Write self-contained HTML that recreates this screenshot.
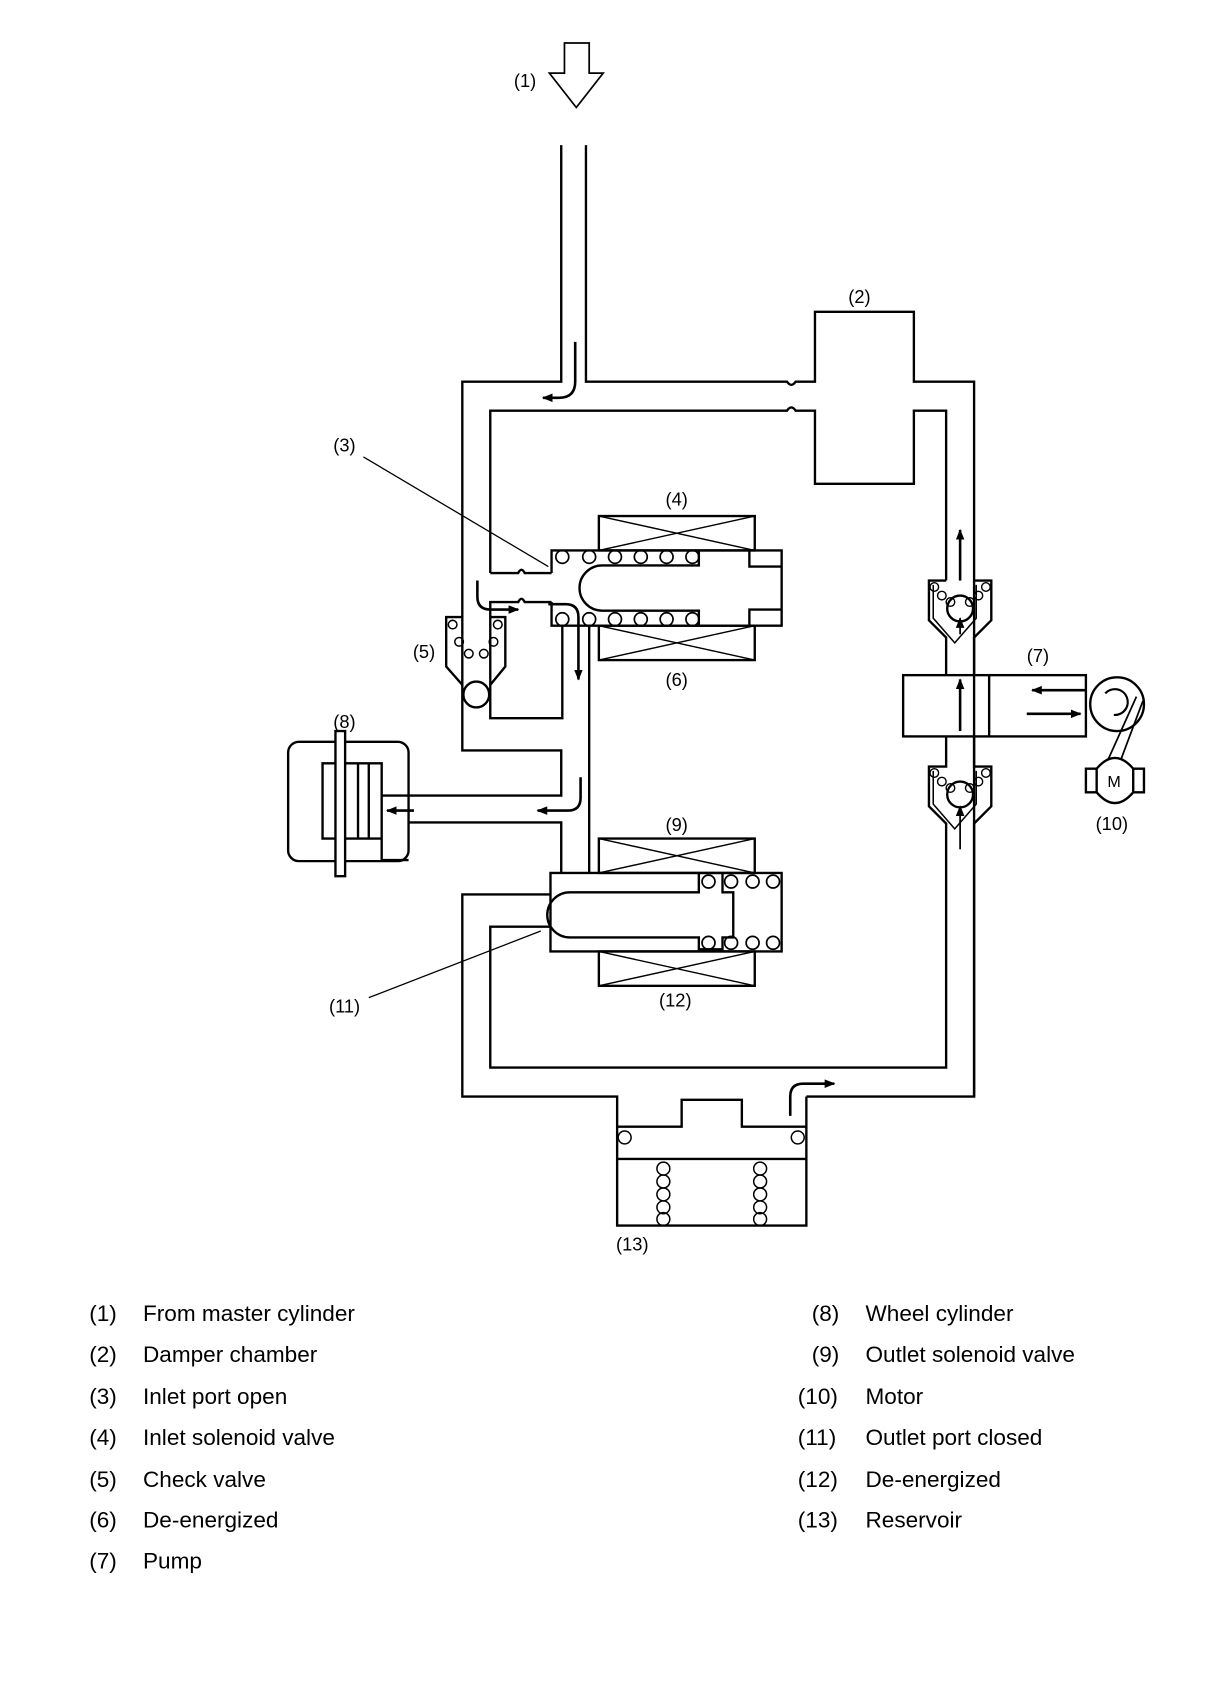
<!DOCTYPE html>
<html><head><meta charset="utf-8"><style>
html,body{margin:0;padding:0;background:#fff}
svg{display:block}
text{font-family:"Liberation Sans",Arial,sans-serif;fill:#000}
</style></head><body>
<svg width="1216" height="1690" viewBox="0 0 1131 1572" preserveAspectRatio="none" xmlns="http://www.w3.org/2000/svg">
<defs><marker id="ah" markerWidth="10" markerHeight="8" refX="9" refY="4" orient="auto" markerUnits="userSpaceOnUse"><path d="M0,0 L10,4 L0,8 Z" fill="#000"/></marker></defs>
<g fill="none" stroke="#000" stroke-width="2.2">
<path d="M525,40 H548 V68 H561 L536,100 L511,68 H525 Z" stroke-width="1.6"/>
<path d="M522,135 V355 H430 V698 H522 V740 H380"/>
<path d="M545,135 V355 H732 q4,6 8,0 H758 V290 H850 V355 H906 V1020 H750"/>
<path d="M456,533 V382 H732 q4,-6 8,0 H758 V450 H850 V382 H880 V540"/>
<path d="M456,533 H482 q3,-6 6,0 H513"/>
<path d="M513,560 H488 q-3,-6 -6,0 H456 V668 H523 V582"/>
<path d="M548,582 V812"/>
<path d="M380,765 H522 V812"/>
<rect x="557" y="480" width="145" height="32"/><path d="M557,480 L702,512 M702,480 L557,512" stroke-width="1.3"/>
<rect x="557" y="582" width="145" height="32"/><path d="M557,582 L702,614 M702,582 L557,614" stroke-width="1.3"/>
<path d="M513,533 V512 H727 V582 H513 V560"/>
<path d="M650,512 V526 H560 a20,20 0 0 0 0,42 H650 V582 M697,512 V527 H727 M697,582 V567 H727"/>
<g stroke-width="1.6">
<circle cx="523" cy="518" r="6"/><circle cx="548" cy="518" r="6"/><circle cx="572" cy="518" r="6"/><circle cx="596" cy="518" r="6"/><circle cx="620" cy="518" r="6"/><circle cx="644" cy="518" r="6"/>
<circle cx="523" cy="576" r="6"/><circle cx="548" cy="576" r="6"/><circle cx="572" cy="576" r="6"/><circle cx="596" cy="576" r="6"/><circle cx="620" cy="576" r="6"/><circle cx="644" cy="576" r="6"/>
</g>
<path d="M430,574 H415 V620 L430,637 M456,574 H470 V620 L456,637" />
<circle cx="443" cy="646" r="12" fill="#fff"/>
<g stroke-width="1.4"><circle cx="421" cy="581" r="4"/><circle cx="463" cy="581" r="4"/><circle cx="427" cy="597" r="4"/><circle cx="459" cy="597" r="4"/><circle cx="436" cy="608" r="4"/><circle cx="450" cy="608" r="4"/></g>
<rect x="268" y="690" width="112" height="111" rx="10"/>
<path d="M380,740 H355 V800 H380 M355,740 V710 H300 V780 H355 V765"/>
<path d="M313,710 V780 M333,710 V780 M343,710 V780"/>
<rect x="312" y="680" width="9" height="135" fill="#fff"/>
<rect x="557" y="780" width="145" height="32"/><path d="M557,780 L702,812 M702,780 L557,812" stroke-width="1.3"/>
<rect x="557" y="885" width="145" height="32"/><path d="M557,885 L702,917 M702,885 L557,917" stroke-width="1.3"/>
<rect x="512" y="812" width="215" height="73"/>
<path d="M650,812 V830 H530 a20,20 0 0 0 0,42 H650 V883 H672 V872 H682 V830 H672 V812"/>
<g stroke-width="1.6">
<circle cx="659" cy="820" r="6"/><circle cx="680" cy="820" r="6"/><circle cx="700" cy="820" r="6"/><circle cx="719" cy="820" r="6"/>
<circle cx="659" cy="877" r="6"/><circle cx="680" cy="877" r="6"/><circle cx="700" cy="877" r="6"/><circle cx="719" cy="877" r="6"/>
</g>
<path d="M512,832 H430 V1020 H574 V1140 H750 V1020"/>
<path d="M512,862 H456 V993 H880 V780"/>
<path d="M574,1048 H634 V1023 H690 V1048 H750 M574,1078 H750"/>
<g stroke-width="1.4">
<circle cx="581" cy="1058" r="6"/><circle cx="742" cy="1058" r="6"/>
<circle cx="617" cy="1087" r="6"/><circle cx="617" cy="1099" r="6"/><circle cx="617" cy="1111" r="6"/><circle cx="617" cy="1123" r="6"/><circle cx="617" cy="1134" r="6"/>
<circle cx="707" cy="1087" r="6"/><circle cx="707" cy="1099" r="6"/><circle cx="707" cy="1111" r="6"/><circle cx="707" cy="1123" r="6"/><circle cx="707" cy="1134" r="6"/>
</g>
<path d="M880,540 H864 V577 L880,593 V628 M906,540 H922 V577 L906,593 V628" />
<path d="M868,544 V575 L888,598 L908,575 V544" stroke-width="1.4"/>
<circle cx="893" cy="566" r="12"/>
<g stroke-width="1.3"><circle cx="869" cy="546" r="4"/><circle cx="917" cy="546" r="4"/><circle cx="876" cy="554" r="4"/><circle cx="910" cy="554" r="4"/><circle cx="884" cy="560" r="4"/><circle cx="902" cy="560" r="4"/></g>
<rect x="840" y="628" width="170" height="57"/><path d="M920,628 V685"/>
<path d="M880,685 V713 H864 V750 L880,766 V780 M906,685 V713 H922 V750 L906,766 V1020" />
<path d="M868,717 V748 L888,771 L908,748 V717" stroke-width="1.4"/>
<circle cx="893" cy="739" r="12"/>
<g stroke-width="1.3"><circle cx="869" cy="719" r="4"/><circle cx="917" cy="719" r="4"/><circle cx="876" cy="727" r="4"/><circle cx="910" cy="727" r="4"/><circle cx="884" cy="733" r="4"/><circle cx="902" cy="733" r="4"/></g>
<circle cx="1039" cy="655" r="25"/>
<path d="M1028,645 a12,12 0 1 1 8,20" stroke-width="2"/>
<path d="M1057,648 L1030,708 M1063,652 L1042,708" stroke-width="1.6"/>
<path d="M1020,715 q17,-20 34,0 V737 q-17,20 -34,0 Z M1010,715 H1020 V737 H1010 Z M1054,715 H1064 V737 H1054 Z" fill="#fff"/>
<path d="M338,425 L510,527 M343,928 L503,866" stroke-width="1.2"/>
<g stroke-width="2.4">
<path d="M535,318 V355 q0,15 -15,15 H505" marker-end="url(#ah)"/>
<path d="M444,540 V555 q0,12 12,12 H482" marker-end="url(#ah)"/>
<path d="M510,562 H526 q12,0 12,12 V632" marker-end="url(#ah)"/>
<path d="M540,723 V742 q0,12 -12,12 H500" marker-end="url(#ah)"/>
<path d="M385,754 H360" marker-end="url(#ah)"/>
<path d="M735,1038 V1020 q0,-12 12,-12 H776" marker-end="url(#ah)"/>
<path d="M893,680 V632" marker-end="url(#ah)"/>
<path d="M893,540 V493" marker-end="url(#ah)"/>
<path d="M893,590 V575" marker-end="url(#ah)" stroke-width="1.6"/>
<path d="M893,790 V750" marker-end="url(#ah)" stroke-width="1.6"/>
<path d="M1010,642 H960" marker-end="url(#ah)"/>
<path d="M955,664 H1005" marker-end="url(#ah)"/>
</g>
</g>
<g font-size="17">
<text x="478" y="81">(1)</text>
<text x="789" y="282">(2)</text>
<text x="310" y="420">(3)</text>
<text x="619" y="470">(4)</text>
<text x="384" y="612">(5)</text>
<text x="619" y="638">(6)</text>
<text x="955" y="616">(7)</text>
<text x="310" y="677">(8)</text>
<text x="619" y="773">(9)</text>
<text x="1019" y="772">(10)</text>
<text x="306" y="942">(11)</text>
<text x="613" y="936">(12)</text>
<text x="573" y="1163">(13)</text>
<text x="1030" y="732" font-size="15">M</text>
</g>
<g font-size="21">
<text x="83" y="1229">(1)</text><text x="133" y="1229">From master cylinder</text>
<text x="83" y="1267">(2)</text><text x="133" y="1267">Damper chamber</text>
<text x="83" y="1306">(3)</text><text x="133" y="1306">Inlet port open</text>
<text x="83" y="1344">(4)</text><text x="133" y="1344">Inlet solenoid valve</text>
<text x="83" y="1383">(5)</text><text x="133" y="1383">Check valve</text>
<text x="83" y="1421">(6)</text><text x="133" y="1421">De-energized</text>
<text x="83" y="1459">(7)</text><text x="133" y="1459">Pump</text>
<text x="755" y="1229">(8)</text><text x="805" y="1229">Wheel cylinder</text>
<text x="755" y="1267">(9)</text><text x="805" y="1267">Outlet solenoid valve</text>
<text x="742" y="1306">(10)</text><text x="805" y="1306">Motor</text>
<text x="742" y="1344">(11)</text><text x="805" y="1344">Outlet port closed</text>
<text x="742" y="1383">(12)</text><text x="805" y="1383">De-energized</text>
<text x="742" y="1421">(13)</text><text x="805" y="1421">Reservoir</text>
</g>
</svg>
</body></html>
